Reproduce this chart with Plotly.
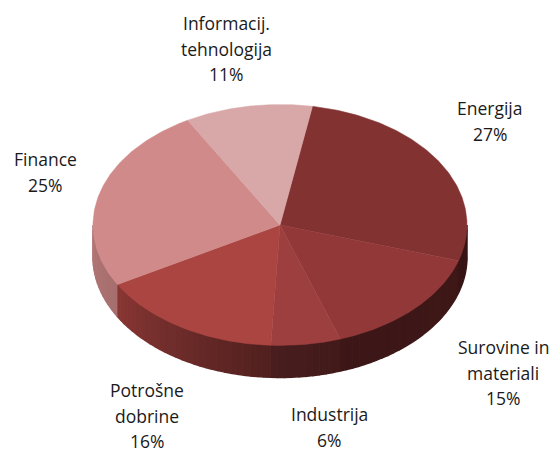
import numpy as np
import plotly.graph_objects as go

categories = ["Energija", "Surovine in materiali", "Industrija", "Potrošne dobrine", "Finance", "Informacij. tehnologija"]
values = [27, 15, 6, 16, 25, 11]
colors = ["#833232", "#923838", "#9d3f3f", "#ab4542", "#d08a8a", "#d8a7a7"]
label_lines = [["Energija"], ["Surovine in", "materiali"], ["Industrija"], ["Potrošne", "dobrine"], ["Finance"], ["Informacij.", "tehnologija"]]
label_x = [490, 503, 329, 147, 45, 226]
label_y = [108, 347, 414, 390, 159, 23]

CX, CY, RX, RY, DEPTH = 280, 225, 187, 120.5, 32
START = 10.0
LINE = 25.6

def rgb(h):
    return np.array([int(h[i:i + 2], 16) for i in (1, 3, 5)], float)

def shade(t):
    return np.interp(t, [90, 160, 183, 240, 270], [0.43, 0.42, 0.47, 0.80, 0.86])

def ex(t):
    return CX + RX * np.sin(np.radians(t))

def ey(t):
    return CY - RY * np.cos(np.radians(t))

fracs = np.array(values, float) / sum(values) * 360
bounds = START + np.concatenate([[0], np.cumsum(fracs)])

fig = go.Figure()

# side wall, front half only
for i, c in enumerate(colors):
    a, b = max(bounds[i], 90), min(bounds[i + 1], 270)
    if b <= a:
        continue
    edges = np.linspace(a, b, max(2, int((b - a) / 2) + 1))
    for t0, t1 in zip(edges[:-1], edges[1:]):
        ts = np.linspace(t0, t1, 4)
        x = np.concatenate([ex(ts), ex(ts[::-1])])
        y = np.concatenate([ey(ts), ey(ts[::-1]) + DEPTH])
        col = rgb(c) * shade((t0 + t1) / 2)
        css = "rgb(%d,%d,%d)" % tuple(col)
        fig.add_trace(go.Scatter(x=x, y=y, mode="lines", fill="toself", fillcolor=css,
                                 line=dict(color=css, width=1.5), hoverinfo="skip", showlegend=False))

# top face
for i, c in enumerate(colors):
    ts = np.linspace(bounds[i], bounds[i + 1], 120)
    x = np.concatenate([[CX], ex(ts), [CX]])
    y = np.concatenate([[CY], ey(ts), [CY]])
    fig.add_trace(go.Scatter(x=x, y=y, mode="lines", fill="toself", fillcolor=c,
                             line=dict(color=c, width=0.5), hoverinfo="skip",
                             name=categories[i], showlegend=False))

# labels
for lines, v, lx, ly in zip(label_lines, values, label_x, label_y):
    for j, s in enumerate(lines + [f"{v}%"]):
        fig.add_annotation(x=lx, y=ly + j * LINE, text=s, showarrow=False,
                           xanchor="center", yanchor="middle",
                           font=dict(family="Open Sans", size=17.5, color="#1a1a1a"))

fig.update_layout(
    width=554, height=452, margin=dict(l=0, r=0, t=0, b=0),
    paper_bgcolor="white", plot_bgcolor="white", showlegend=False,
    xaxis=dict(range=[0, 554], visible=False, fixedrange=True),
    yaxis=dict(range=[452, 0], visible=False, fixedrange=True),
)
fig.write_html("out.html", config={"displayModeBar": False},
               post_script="document.body.style.margin='0';document.documentElement.style.overflow='hidden';")
